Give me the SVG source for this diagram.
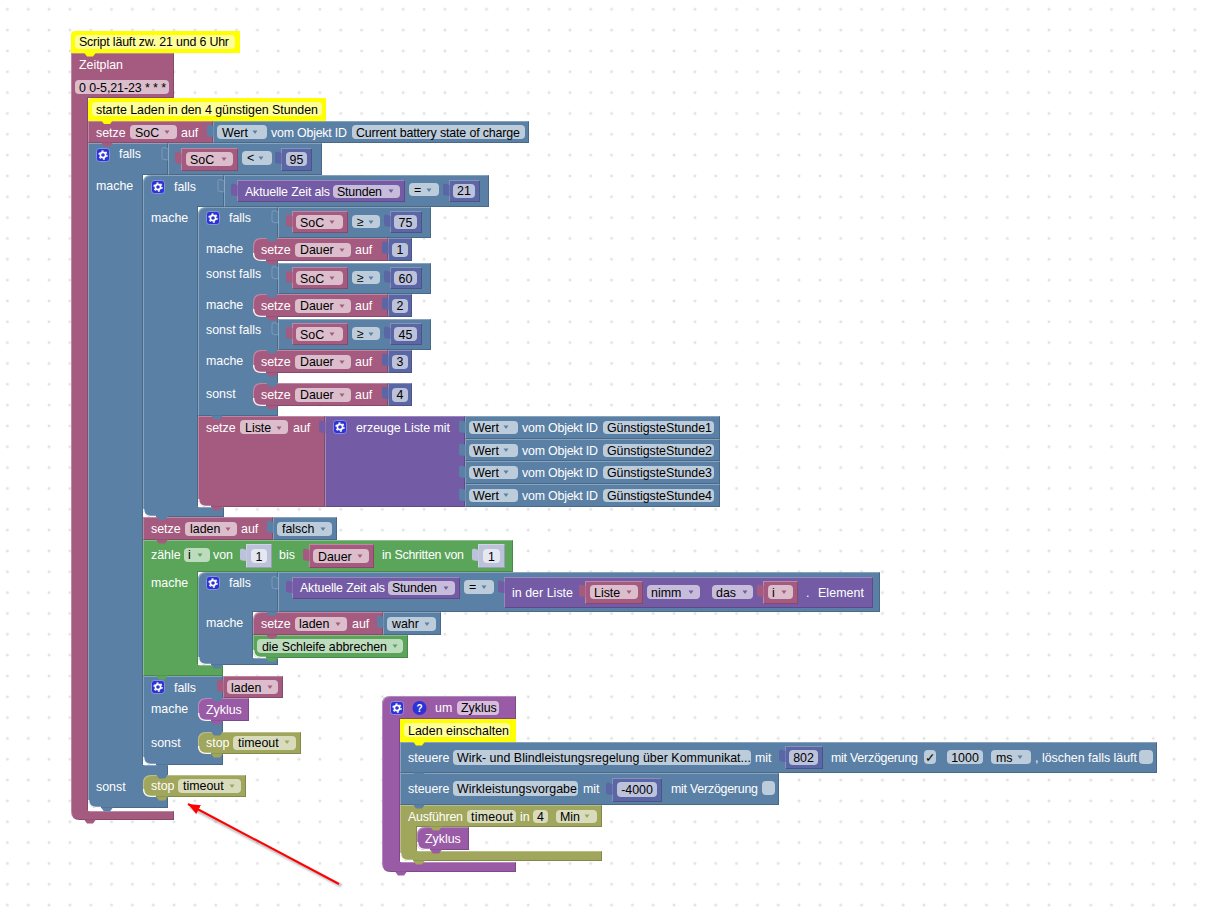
<svg xmlns="http://www.w3.org/2000/svg" width="1206" height="913" viewBox="0 0 1206 913">
<style>
text{font-family:"Liberation Sans",Arial,sans-serif;font-size:12.4px;fill:#000}
.w{fill:#fff}
.b{fill:#5b80a5}.r{fill:#a55b80}.l{fill:#745ba5}.p{fill:#995ba5}.g{fill:#5ba55b}.o{fill:#a0a65b}.m{fill:#5b67a5}.s{fill:#bdc2db}.y{fill:#ff0}
.e{filter:url(#bevel)}
.f{fill:#fff;fill-opacity:.6;rx:4px}
.k{stroke:#fff;stroke-opacity:.2;stroke-width:1}
.hl{fill:none;stroke:#fff;stroke-opacity:.95;stroke-width:1.3}
</style>
<defs>
<pattern id="grid" patternUnits="userSpaceOnUse" x="5.4" y="7.3" width="20.833" height="20.833">
<path d="M2,.5V3.5M.5,2H3.5" stroke="#d8d8d8" stroke-width="1" fill="none"/>
</pattern>
<filter id="bevel" x="0" y="0" width="100%" height="100%" color-interpolation-filters="sRGB">
<feOffset in="SourceAlpha" dx="1" dy="1" result="a"/>
<feComposite in="SourceAlpha" in2="a" operator="out" result="tl"/>
<feFlood flood-color="#fff" flood-opacity=".28"/>
<feComposite in2="tl" operator="in" result="light"/>
<feOffset in="SourceAlpha" dx="-1" dy="-1" result="c"/>
<feComposite in="SourceAlpha" in2="c" operator="out" result="br"/>
<feFlood flood-color="#000" flood-opacity=".18"/>
<feComposite in2="br" operator="in" result="dark"/>
<feMerge><feMergeNode in="SourceGraphic"/><feMergeNode in="light"/><feMergeNode in="dark"/></feMerge>
</filter>
<filter id="soft" x="-10%" y="-10%" width="120%" height="120%"><feGaussianBlur stdDeviation="1"/></filter>
<path id="tab" d="M13,-.5l3,4h6l3,-4z"/>
<path id="vt" d="M.5,0L-4,-1.5q-2,0 -2,2v8q0,2 2,2L.5,11z"/>
<path id="dd" d="M-2.5,-1.5h5l-2.5,3.5z"/>
<path id="cn" d="M.6,-8q0,7.4 7.4,7.4h5"/>
<path id="set-shape" d="M261,238H388V261H261q-8,0 -8,-8V246q0,-8 8,-8z"/>
<g id="gear">
<rect x=".5" y=".5" width="13" height="13" rx="3" fill="#2a32d8" stroke="#fff" stroke-opacity=".35"/>
<circle cx="7" cy="7" r="2.6" fill="none" stroke="#fff" stroke-width="1.6"/>
<circle cx="7" cy="7" r="4" fill="none" stroke="#fff" stroke-width="1.4" stroke-dasharray="2 2.2"/>
</g>
<marker id="head" markerUnits="userSpaceOnUse" markerWidth="14" markerHeight="12" refX="12" refY="5" orient="auto"><path d="M0,0L12,5L0,10z" fill="#f00"/></marker>
</defs>

<rect width="1206" height="913" fill="#fff"/>
<rect width="1206" height="913" fill="url(#grid)"/>

<!-- schedule trigger wrapping the whole program -->
<g id="zeitplan">
<path class="r e" d="M71,53H174V98H88V811H174V820H80q-9,0 -9,-9z"/>
<text class="w" x="79" y="69" textLength="44">Zeitplan</text>
<rect class="f" x="75" y="80" width="94" height="14"/>
<text x="79" y="92" textLength="87">0 0-5,21-23 * * *</text>
<use href="#tab" x="71" y="820" class="r"/>
</g>
<g id="comment-zeitplan">
<path class="y" d="M75,31H240V53H71V35q0,-4 4,-4z"/>
<rect class="f" x="75" y="35" width="160" height="14"/>
<text x="79" y="46" textLength="150">Script läuft zw. 21 und 6 Uhr</text>
<use href="#tab" x="71" y="53" class="y"/>
</g>

<!-- outer branch on the state of charge -->
<g id="falls-soc">
<path class="b e" d="M88,143H168V175H143V765H168V808H97q-9,0 -9,-9z"/>
<use href="#gear" x="96" y="148"/>
<text class="w" x="119" y="158">falls</text>
<text class="w" x="96" y="190">mache</text>
<text class="w" x="96" y="791">sonst</text>
<use href="#cn" x="88" y="808" class="hl"/>
<use href="#tab" x="88" y="808" class="b"/>
</g>
<g id="vergleich-soc">
<rect class="b e" x="168" y="143" width="154" height="32"/>
<use href="#vt" x="168" y="149" class="b k"/>
<rect class="r e" x="181" y="148" width="57" height="23"/>
<use href="#vt" x="181" y="153" class="r"/>
<rect class="f" x="186" y="152" width="47" height="14"/>
<text x="190" y="164">SoC</text>
<use href="#dd" x="224" y="159" class="r"/>
<rect class="f" x="242" y="151" width="30" height="14"/>
<text x="247" y="162">&lt;</text>
<use href="#dd" x="261" y="158" class="b"/>
<rect class="m e" x="281" y="148" width="31" height="23"/>
<use href="#vt" x="281" y="153" class="m"/>
<rect class="f" x="286" y="152" width="21" height="14"/>
<text x="296.500" y="164" text-anchor="middle">95</text>
</g>

<g id="comment-laden">
<path class="y" d="M92,98H326V121H88V102q0,-4 4,-4z"/>
<rect class="f" x="92" y="102" width="230" height="14"/>
<text x="96" y="114" textLength="222">starte Laden in den 4 günstigen Stunden</text>
</g>
<g id="setze-soc">
<rect class="r e" x="88" y="121" width="125" height="22"/>
<use href="#tab" x="88" y="120.500" class="y"/>
<text class="w" x="96" y="137">setze</text>
<rect class="f" x="130" y="125" width="47" height="14"/>
<text x="135" y="137">SoC</text>
<use href="#dd" x="167" y="132" class="r"/>
<text class="w" x="181" y="137">auf</text>
<rect class="b e" x="213" y="121" width="316" height="22"/>
<use href="#vt" x="213" y="126" class="b"/>
<rect class="f" x="217" y="125" width="50" height="14"/>
<text x="222" y="137">Wert</text>
<use href="#dd" x="255" y="132" class="b"/>
<text class="w" x="271" y="137" textLength="76">vom Objekt ID</text>
<rect class="f" x="352" y="125" width="173" height="14"/>
<text x="356" y="137" textLength="164">Current battery state of charge</text>
<use href="#tab" x="88" y="143" class="r"/>
</g>

<!-- start-of-window branch: choose duration and the cheapest hours -->
<g id="falls-stunde">
<path class="b e" d="M151,175H224V207H198V507H224V517H152q-9,0 -9,-9V183q0,-8 8,-8z"/>
<use href="#gear" x="151" y="180"/>
<text class="w" x="174" y="191">falls</text>
<text class="w" x="151" y="222">mache</text>
<use href="#cn" x="143" y="517" class="hl"/>
</g>
<g id="vergleich-stunde">
<rect class="b e" x="224" y="175" width="265" height="32"/>
<use href="#vt" x="224" y="181" class="b k"/>
<rect class="l e" x="237" y="180" width="168" height="22"/>
<use href="#vt" x="237" y="185" class="l"/>
<text class="w" x="245" y="196" textLength="85">Aktuelle Zeit als</text>
<rect class="f" x="333" y="185" width="67" height="13"/>
<text x="337" y="196" textLength="45">Stunden</text>
<use href="#dd" x="391" y="191" class="l"/>
<rect class="f" x="409" y="183" width="30" height="13"/>
<text x="414" y="194">=</text>
<use href="#dd" x="429" y="190" class="b"/>
<rect class="m e" x="449" y="180" width="31" height="22"/>
<use href="#vt" x="449" y="185" class="m"/>
<rect class="f" x="453" y="184" width="22" height="14"/>
<text x="464" y="195" text-anchor="middle">21</text>
</g>

<g id="falls-dauer">
<path class="b e" d="M206,207H278V416H198V215q0,-8 8,-8z"/>
<use href="#gear" x="206" y="211"/>
<text class="w" x="229" y="222">falls</text>
<text class="w" x="206" y="253">mache</text>
<text class="w" x="206" y="278">sonst falls</text>
<text class="w" x="206" y="309">mache</text>
<text class="w" x="206" y="334">sonst falls</text>
<text class="w" x="206" y="365">mache</text>
<text class="w" x="206" y="398">sonst</text>
</g>
<g id="vergleich-75">
<rect class="b e" x="278" y="207" width="153" height="31"/>
<use href="#vt" x="278" y="212" class="b k"/>
<rect class="r e" x="292" y="211" width="56" height="22"/>
<use href="#vt" x="292" y="216" class="r"/>
<rect class="f" x="296" y="215" width="47" height="14"/>
<text x="300" y="227">SoC</text>
<use href="#dd" x="332" y="222" class="r"/>
<rect class="f" x="352" y="215" width="28" height="13"/>
<text x="357" y="226">≥</text>
<use href="#dd" x="371" y="222" class="b"/>
<rect class="m e" x="390" y="211" width="32" height="22"/>
<use href="#vt" x="390" y="216" class="m"/>
<rect class="f" x="394" y="215" width="23" height="14"/>
<text x="405.500" y="227" text-anchor="middle">75</text>
</g>
<g id="vergleich-60" transform="translate(0,56)">
<rect class="b e" x="278" y="207" width="153" height="31"/>
<use href="#vt" x="278" y="212" class="b k"/>
<rect class="r e" x="292" y="211" width="56" height="22"/>
<use href="#vt" x="292" y="216" class="r"/>
<rect class="f" x="296" y="215" width="47" height="14"/>
<text x="300" y="227">SoC</text>
<use href="#dd" x="332" y="222" class="r"/>
<rect class="f" x="352" y="215" width="28" height="13"/>
<text x="357" y="226">≥</text>
<use href="#dd" x="371" y="222" class="b"/>
<rect class="m e" x="390" y="211" width="32" height="22"/>
<use href="#vt" x="390" y="216" class="m"/>
<rect class="f" x="394" y="215" width="23" height="14"/>
<text x="405.500" y="227" text-anchor="middle">60</text>
</g>
<g id="vergleich-45" transform="translate(0,112)">
<rect class="b e" x="278" y="207" width="153" height="31"/>
<use href="#vt" x="278" y="212" class="b k"/>
<rect class="r e" x="292" y="211" width="56" height="22"/>
<use href="#vt" x="292" y="216" class="r"/>
<rect class="f" x="296" y="215" width="47" height="14"/>
<text x="300" y="227">SoC</text>
<use href="#dd" x="332" y="222" class="r"/>
<rect class="f" x="352" y="215" width="28" height="13"/>
<text x="357" y="226">≥</text>
<use href="#dd" x="371" y="222" class="b"/>
<rect class="m e" x="390" y="211" width="32" height="22"/>
<use href="#vt" x="390" y="216" class="m"/>
<rect class="f" x="394" y="215" width="23" height="14"/>
<text x="405.500" y="227" text-anchor="middle">45</text>
</g>

<g id="setze-dauer-1">
<use href="#set-shape" class="r e"/>
<use href="#cn" x="253" y="261" class="hl"/>
<use href="#tab" x="253" y="238" class="b"/>
<use href="#tab" x="253" y="261" class="r"/>
<text class="w" x="261" y="254">setze</text>
<rect class="f" x="295" y="243" width="56" height="14"/>
<text x="300" y="254">Dauer</text>
<use href="#dd" x="342" y="250" class="r"/>
<text class="w" x="355" y="254">auf</text>
<rect class="m e" x="388" y="238" width="24" height="23"/>
<use href="#vt" x="388" y="243" class="m"/>
<rect class="f" x="392" y="243" width="16" height="14"/>
<text x="400" y="254" text-anchor="middle">1</text>
</g>
<g id="setze-dauer-2" transform="translate(0,56)">
<use href="#set-shape" class="r e"/>
<use href="#cn" x="253" y="261" class="hl"/>
<use href="#tab" x="253" y="238" class="b"/>
<use href="#tab" x="253" y="261" class="r"/>
<text class="w" x="261" y="254">setze</text>
<rect class="f" x="295" y="243" width="56" height="14"/>
<text x="300" y="254">Dauer</text>
<use href="#dd" x="342" y="250" class="r"/>
<text class="w" x="355" y="254">auf</text>
<rect class="m e" x="388" y="238" width="24" height="23"/>
<use href="#vt" x="388" y="243" class="m"/>
<rect class="f" x="392" y="243" width="16" height="14"/>
<text x="400" y="254" text-anchor="middle">2</text>
</g>
<g id="setze-dauer-3" transform="translate(0,112)">
<use href="#set-shape" class="r e"/>
<use href="#cn" x="253" y="261" class="hl"/>
<use href="#tab" x="253" y="238" class="b"/>
<use href="#tab" x="253" y="261" class="r"/>
<text class="w" x="261" y="254">setze</text>
<rect class="f" x="295" y="243" width="56" height="14"/>
<text x="300" y="254">Dauer</text>
<use href="#dd" x="342" y="250" class="r"/>
<text class="w" x="355" y="254">auf</text>
<rect class="m e" x="388" y="238" width="24" height="23"/>
<use href="#vt" x="388" y="243" class="m"/>
<rect class="f" x="392" y="243" width="16" height="14"/>
<text x="400" y="254" text-anchor="middle">3</text>
</g>
<g id="setze-dauer-4" transform="translate(0,145)">
<use href="#set-shape" class="r e"/>
<use href="#cn" x="253" y="261" class="hl"/>
<use href="#tab" x="253" y="238" class="b"/>
<use href="#tab" x="253" y="261" class="r"/>
<text class="w" x="261" y="254">setze</text>
<rect class="f" x="295" y="243" width="56" height="14"/>
<text x="300" y="254">Dauer</text>
<use href="#dd" x="342" y="250" class="r"/>
<text class="w" x="355" y="254">auf</text>
<rect class="m e" x="388" y="238" width="24" height="23"/>
<use href="#vt" x="388" y="243" class="m"/>
<rect class="f" x="392" y="243" width="16" height="14"/>
<text x="400" y="254" text-anchor="middle">4</text>
</g>

<g id="setze-liste">
<path class="r e" d="M198,416H325V507H207q-9,0 -9,-9z"/>
<use href="#cn" x="198" y="507" class="hl"/>
<use href="#tab" x="198" y="416" class="b"/>
<use href="#tab" x="198" y="507" class="r"/>
<text class="w" x="206" y="432">setze</text>
<rect class="f" x="240" y="420" width="48" height="14"/>
<text x="245" y="432">Liste</text>
<use href="#dd" x="279" y="428" class="r"/>
<text class="w" x="293" y="432">auf</text>
</g>
<g id="erzeuge-liste">
<rect class="l e" x="325" y="416" width="140" height="91"/>
<use href="#vt" x="325" y="422" class="l"/>
<use href="#gear" x="333" y="420"/>
<text class="w" x="356" y="432" textLength="94">erzeuge Liste mit</text>
</g>
<g id="stunde-1">
<rect class="b e" x="465" y="416" width="255" height="23"/>
<use href="#vt" x="465" y="422" class="b"/>
<rect class="f" x="469" y="421" width="49" height="13"/>
<text x="473" y="432">Wert</text>
<use href="#dd" x="506" y="427" class="b"/>
<text class="w" x="522" y="432" textLength="76">vom Objekt ID</text>
<rect class="f" x="603" y="421" width="111" height="13"/>
<text x="607" y="432" textLength="105">GünstigsteStunde1</text>
</g>
<g id="stunde-2" transform="translate(0,23)">
<rect class="b e" x="465" y="416" width="255" height="22"/>
<use href="#vt" x="465" y="422" class="b"/>
<rect class="f" x="469" y="421" width="49" height="13"/>
<text x="473" y="432">Wert</text>
<use href="#dd" x="506" y="427" class="b"/>
<text class="w" x="522" y="432" textLength="76">vom Objekt ID</text>
<rect class="f" x="603" y="421" width="111" height="13"/>
<text x="607" y="432" textLength="105">GünstigsteStunde2</text>
</g>
<g id="stunde-3" transform="translate(0,45)">
<rect class="b e" x="465" y="416" width="255" height="23"/>
<use href="#vt" x="465" y="422" class="b"/>
<rect class="f" x="469" y="421" width="49" height="13"/>
<text x="473" y="432">Wert</text>
<use href="#dd" x="506" y="427" class="b"/>
<text class="w" x="522" y="432" textLength="76">vom Objekt ID</text>
<rect class="f" x="603" y="421" width="111" height="13"/>
<text x="607" y="432" textLength="105">GünstigsteStunde3</text>
</g>
<g id="stunde-4" transform="translate(0,68)">
<rect class="b e" x="465" y="416" width="255" height="23"/>
<use href="#vt" x="465" y="422" class="b"/>
<rect class="f" x="469" y="421" width="49" height="13"/>
<text x="473" y="432">Wert</text>
<use href="#dd" x="506" y="427" class="b"/>
<text class="w" x="522" y="432" textLength="76">vom Objekt ID</text>
<rect class="f" x="603" y="421" width="111" height="13"/>
<text x="607" y="432" textLength="105">GünstigsteStunde4</text>
</g>

<g id="setze-laden-falsch">
<rect class="r e" x="143" y="517" width="130" height="23"/>
<use href="#tab" x="143" y="516.500" class="b"/>
<text class="w" x="151" y="533">setze</text>
<rect class="f" x="185" y="522" width="52" height="14"/>
<text x="190" y="533">laden</text>
<use href="#dd" x="228" y="529" class="r"/>
<text class="w" x="241" y="533">auf</text>
<rect class="b e" x="273" y="517" width="64" height="23"/>
<use href="#vt" x="273" y="522" class="b"/>
<rect class="f" x="277" y="522" width="55" height="14"/>
<text x="282" y="533">falsch</text>
<use href="#dd" x="323" y="529" class="b"/>
</g>

<!-- counting loop over the selected hours -->
<g id="zaehle">
<path class="g e" d="M143,540H513V572H198V665H223V676H143z"/>
<use href="#tab" x="143" y="540" class="r"/>
<text class="w" x="151" y="559">zähle</text>
<rect class="f" x="184" y="548" width="26" height="14"/>
<text x="188" y="559">i</text>
<use href="#dd" x="200" y="555" class="g"/>
<text class="w" x="213" y="559">von</text>
<rect class="s e" x="246" y="544" width="26" height="24"/>
<use href="#vt" x="246" y="550" class="s"/>
<rect class="f" x="251" y="549" width="16" height="14"/>
<text x="259" y="561" text-anchor="middle">1</text>
<text class="w" x="279" y="559">bis</text>
<rect class="r e" x="309" y="544" width="65" height="24"/>
<use href="#vt" x="309" y="550" class="r"/>
<rect class="f" x="313" y="549" width="56" height="14"/>
<text x="318" y="561">Dauer</text>
<use href="#dd" x="360" y="556" class="r"/>
<text class="w" x="382" y="559" textLength="82">in Schritten von</text>
<rect class="s e" x="478" y="544" width="27" height="24"/>
<use href="#vt" x="478" y="550" class="s"/>
<rect class="f" x="483" y="549" width="17" height="14"/>
<text x="491.500" y="561" text-anchor="middle">1</text>
<text class="w" x="151" y="587">mache</text>
</g>
<g id="falls-treffer">
<path class="b e" d="M206,572H278V612H253V658H278V665H207q-9,0 -9,-9V580q0,-8 8,-8z"/>
<use href="#cn" x="198" y="665" class="hl"/>
<use href="#gear" x="206" y="576"/>
<text class="w" x="229" y="587">falls</text>
<text class="w" x="206" y="627">mache</text>
<use href="#tab" x="198" y="665" class="b"/>
</g>
<g id="vergleich-element">
<rect class="b e" x="278" y="572" width="602" height="40"/>
<use href="#vt" x="278" y="578" class="b k"/>
<rect class="l e" x="292" y="577" width="168" height="22"/>
<use href="#vt" x="292" y="582" class="l"/>
<text class="w" x="300" y="592" textLength="85">Aktuelle Zeit als</text>
<rect class="f" x="388" y="581" width="67" height="14"/>
<text x="392" y="592" textLength="45">Stunden</text>
<use href="#dd" x="446" y="588" class="l"/>
<rect class="f" x="464" y="580" width="30" height="14"/>
<text x="469" y="591">=</text>
<use href="#dd" x="484" y="587" class="b"/>
</g>
<g id="listen-element">
<rect class="l e" x="504" y="577" width="369" height="31"/>
<use href="#vt" x="504" y="582" class="l"/>
<text class="w" x="512" y="597" textLength="61">in der Liste</text>
<rect class="r e" x="585" y="581" width="58" height="23"/>
<use href="#vt" x="585" y="586" class="r"/>
<rect class="f" x="590" y="585" width="48" height="14"/>
<text x="594" y="597">Liste</text>
<use href="#dd" x="629" y="592" class="r"/>
<rect class="f" x="647" y="585" width="53" height="14"/>
<text x="651" y="597">nimm</text>
<use href="#dd" x="691" y="592" class="l"/>
<rect class="f" x="712" y="585" width="41" height="14"/>
<text x="716" y="597">das</text>
<use href="#dd" x="745" y="592" class="l"/>
<rect class="r e" x="763" y="581" width="35" height="23"/>
<use href="#vt" x="763" y="586" class="r"/>
<rect class="f" x="768" y="585" width="25" height="14"/>
<text x="772" y="597">i</text>
<use href="#dd" x="784" y="592" class="r"/>
<text class="w" x="806" y="597">.</text>
<text class="w" x="818" y="597" textLength="46">Element</text>
</g>
<g id="setze-laden-wahr">
<path class="r e" d="M261,612H383V635H253V620q0,-8 8,-8z"/>
<use href="#tab" x="253" y="612" class="b"/>
<text class="w" x="261" y="628">setze</text>
<rect class="f" x="295" y="617" width="52" height="14"/>
<text x="299" y="628">laden</text>
<use href="#dd" x="338" y="624" class="r"/>
<text class="w" x="352" y="628">auf</text>
<rect class="b e" x="383" y="612" width="58" height="23"/>
<use href="#vt" x="383" y="617" class="b"/>
<rect class="f" x="387" y="617" width="49" height="14"/>
<text x="392" y="628">wahr</text>
<use href="#dd" x="427" y="624" class="b"/>
</g>
<g id="schleife-abbrechen">
<path class="g e" d="M253,635H408V658H261q-8,0 -8,-8z"/>
<use href="#tab" x="253" y="635" class="r"/>
<use href="#cn" x="253" y="658" class="hl"/>
<rect class="f" x="257" y="639" width="146" height="14"/>
<text x="262" y="651" textLength="125">die Schleife abbrechen</text>
<use href="#dd" x="395" y="646" class="g"/>
<use href="#tab" x="253" y="658" class="g"/>
</g>

<g id="falls-laden">
<path class="b e" d="M143,676H223V765H152q-9,0 -9,-9z"/>
<use href="#tab" x="143" y="676" class="g"/>
<use href="#cn" x="143" y="765" class="hl"/>
<use href="#tab" x="143" y="765" class="b"/>
<use href="#gear" x="151" y="680"/>
<text class="w" x="174" y="692">falls</text>
<text class="w" x="151" y="713">mache</text>
<text class="w" x="151" y="747">sonst</text>
<rect class="r e" x="223" y="676" width="60" height="22"/>
<use href="#vt" x="223" y="681" class="r"/>
<rect class="f" x="227" y="680" width="51" height="14"/>
<text x="231" y="692">laden</text>
<use href="#dd" x="270" y="687" class="r"/>
</g>
<g id="zyklus-aufruf">
<path class="p e" d="M206,698H249V721H206q-8,0 -8,-8V706q0,-8 8,-8z"/>
<use href="#cn" x="198" y="721" class="hl"/>
<use href="#tab" x="198" y="698" class="b"/>
<use href="#tab" x="198" y="721" class="p"/>
<text class="w" x="206" y="714">Zyklus</text>
</g>
<g id="stop-timeout-1">
<path class="o e" d="M206,732H301V754H206q-8,0 -8,-8V740q0,-8 8,-8z"/>
<use href="#cn" x="198" y="754" class="hl"/>
<use href="#tab" x="198" y="732" class="b"/>
<use href="#tab" x="198" y="754" class="o"/>
<text class="w" x="206" y="747">stop</text>
<rect class="f" x="233" y="736" width="63" height="14"/>
<text x="238" y="747">timeout</text>
<use href="#dd" x="287" y="742" class="o"/>
</g>
<g id="stop-timeout-2">
<path class="o e" d="M151,775H246V797H151q-8,0 -8,-8V783q0,-8 8,-8z"/>
<use href="#cn" x="143" y="797" class="hl"/>
<use href="#tab" x="143" y="775" class="b"/>
<use href="#tab" x="143" y="797" class="o"/>
<text class="w" x="151" y="790">stop</text>
<rect class="f" x="178" y="779" width="63" height="14"/>
<text x="183" y="790">timeout</text>
<use href="#dd" x="232" y="786" class="o"/>
</g>

<!-- procedure that switches charging on -->
<g id="prozedur-zyklus">
<path class="p e" d="M390,696H516V719H400V862H516V872H391q-9,0 -9,-9V704q0,-8 8,-8z"/>
<use href="#tab" x="382" y="872" class="p"/>
<use href="#gear" x="390" y="701"/>
<circle cx="419.500" cy="708" r="7" fill="#2a32d8"/>
<text x="419.500" y="712" text-anchor="middle" style="font-size:10px;font-weight:bold;fill:#fff">?</text>
<text class="w" x="435" y="712">um</text>
<rect class="f" x="457" y="701" width="42" height="14"/>
<text x="461" y="712">Zyklus</text>
</g>
<g id="comment-einschalten">
<rect class="y" x="400" y="719" width="116" height="23"/>
<rect class="f" x="404" y="723" width="106" height="14"/>
<text x="408" y="735" textLength="101">Laden einschalten</text>
</g>
<g id="steuere-regelung">
<rect class="b e" x="400" y="742" width="757" height="31"/>
<use href="#tab" x="400" y="742" class="y"/>
<text class="w" x="408" y="762">steuere</text>
<rect class="f" x="453" y="750" width="298" height="15"/>
<text x="457" y="762" textLength="294">Wirk- und Blindleistungsregelung über Kommunikat...</text>
<text class="w" x="755" y="762">mit</text>
<rect class="m e" x="785" y="746" width="38" height="23"/>
<use href="#vt" x="785" y="751" class="m"/>
<rect class="f" x="789" y="750" width="29" height="15"/>
<text x="803.500" y="762" text-anchor="middle">802</text>
<text class="w" x="831" y="762" textLength="87">mit Verzögerung</text>
<rect class="f" x="924" y="750" width="12" height="14"/>
<text x="925" y="762" style="font-family:'DejaVu Sans',sans-serif">✓</text>
<rect class="f" x="947" y="750" width="36" height="14"/>
<text x="965" y="762" text-anchor="middle">1000</text>
<rect class="f" x="991" y="750" width="40" height="14"/>
<text x="996" y="762">ms</text>
<use href="#dd" x="1020" y="757" class="b"/>
<text class="w" x="1035" y="762" textLength="102">, löschen falls läuft</text>
<rect class="f" x="1139" y="750" width="14" height="14"/>
</g>
<g id="steuere-vorgabe">
<rect class="b e" x="400" y="773" width="379" height="32"/>
<use href="#tab" x="400" y="773" class="b"/>
<text class="w" x="408" y="793">steuere</text>
<rect class="f" x="453" y="781" width="125" height="15"/>
<text x="457" y="793" textLength="120">Wirkleistungsvorgabe</text>
<text class="w" x="583" y="793">mit</text>
<rect class="m e" x="612" y="778" width="50" height="24"/>
<use href="#vt" x="612" y="784" class="m"/>
<rect class="f" x="617" y="782" width="40" height="15"/>
<text x="637" y="794" text-anchor="middle">-4000</text>
<text class="w" x="671" y="793" textLength="87">mit Verzögerung</text>
<rect class="f" x="762" y="781" width="13" height="14"/>
</g>
<g id="ausfuehren-timeout">
<path class="o e" d="M400,805H602V827H417V851H602V861H409q-9,0 -9,-9z"/>
<use href="#tab" x="400" y="805" class="b"/>
<use href="#cn" x="400" y="861" class="hl"/>
<use href="#tab" x="400" y="861" class="o"/>
<text class="w" x="408" y="821" textLength="55">Ausführen</text>
<rect class="f" x="467" y="810" width="49" height="13"/>
<text x="471" y="821" textLength="42">timeout</text>
<text class="w" x="520" y="821">in</text>
<rect class="f" x="533" y="810" width="15" height="13"/>
<text x="537" y="821">4</text>
<rect class="f" x="556" y="810" width="41" height="13"/>
<text x="560" y="821">Min</text>
<use href="#dd" x="587" y="816" class="o"/>
</g>
<g id="zyklus-aufruf-2">
<path class="p e" d="M425,827H469V850H425q-8,0 -8,-8V835q0,-8 8,-8z"/>
<use href="#cn" x="417" y="850" class="hl"/>
<use href="#tab" x="417" y="827" class="o"/>
<use href="#tab" x="417" y="850" class="p"/>
<text class="w" x="425" y="843">Zyklus</text>
</g>

<!-- pointer to the second stop block -->
<g id="connectors">
<line x1="341" y1="886" x2="190" y2="807" stroke="#777" stroke-opacity=".6" stroke-width="2.500" filter="url(#soft)"/>
<line x1="339" y1="884" x2="188" y2="804" stroke="#f00" stroke-width="2" marker-end="url(#head)"/>
</g>
</svg>
